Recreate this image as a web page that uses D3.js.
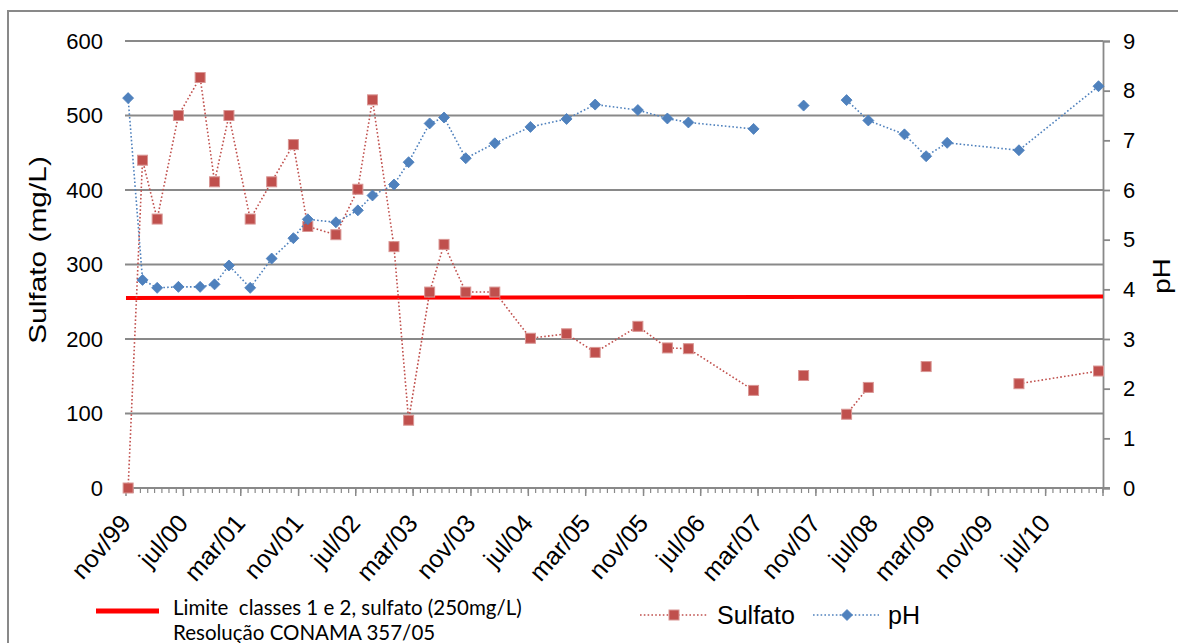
<!DOCTYPE html>
<html>
<head>
<meta charset="utf-8">
<script src="https://cdn.jsdelivr.net/npm/d3@7/dist/d3.min.js"></script>
<style>
  html, body { margin: 0; padding: 0; background: #fff; }
  svg { display: block; }
  text { font-family: "Liberation Sans", Arial, sans-serif; fill: #000; }
</style>
</head>
<body>
<svg id="chart" width="1178" height="643"></svg>
<script>
// ---------- DATA ----------
const dates = ["1999-11-10","2000-01-10","2000-03-12","2000-06-10","2000-09-10","2000-11-10",
  "2001-01-10","2001-04-10","2001-07-10","2001-10-10","2001-12-10","2002-04-08","2002-07-10",
  "2002-09-10","2002-12-10","2003-02-10","2003-05-10","2003-07-10","2003-10-10","2004-02-10",
  "2004-07-10","2004-12-10","2005-04-10","2005-10-08","2006-02-10","2006-05-10","2007-02-10",
  "2007-06-10","2007-09-10","2007-12-10","2008-03-10","2008-06-10","2008-11-10","2009-02-10",
  "2009-05-10","2010-03-10","2011-02-10"];
const sulfato = [0,440,361,500,551,411,500,361,411,461,351,340,401,521,324,91,263,327,263,263,
  201,207,182,217,188,187,131,null,151,null,99,135,null,163,null,140,157];
const ph = [7.85,4.19,4.03,4.05,4.05,4.10,4.48,4.03,4.62,5.03,5.41,5.35,5.59,5.89,6.11,6.56,7.34,
  7.46,6.64,6.94,7.27,7.43,7.72,7.61,7.44,7.36,7.23,null,7.70,null,7.81,7.40,7.12,6.68,6.95,6.80,8.09];
const tickLabels = ["nov/99","jul/00","mar/01","nov/01","jul/02","mar/03","nov/03","jul/04",
  "mar/05","nov/05","jul/06","mar/07","nov/07","jul/08","mar/09","nov/09","jul/10"];
const leftTicks = [0,100,200,300,400,500,600];
const rightTicks = [0,1,2,3,4,5,6,7,8,9];
const limitValues = [255, 257]; // drawn limit line (start, end) in mg/L
const axisStart = "1999-11-01", axisEnd = "2011-03-01";
const seriesNames = ["Sulfato", "pH"];
const limitLegend = ["Limite  classes 1 e 2, sulfato (250mg/L)", "Resolução CONAMA 357/05"];

// ---------- SETUP ----------
const parse = d3.timeParse("%Y-%m-%d");
const rows = dates.map((d,i) => ({date: parse(d), s: sulfato[i], p: ph[i]}));
const svg = d3.select("#chart");
const L = 126, R = 1103, T = 41, B = 488;
const x = d3.scaleTime().domain([parse(axisStart), parse(axisEnd)]).range([L, R]);
const yL = d3.scaleLinear().domain([0,600]).range([B, T]);
const yR = d3.scaleLinear().domain([0,9]).range([B, T]);
const gray = "#898989";
const red = "#C0504D", blue = "#4F81BD";

// outer border
svg.append("rect").attr("x",8).attr("y",11).attr("width",1200).attr("height",700)
  .attr("fill","none").attr("stroke",gray).attr("stroke-width",2);

// gridlines
svg.append("g").selectAll("line").data(leftTicks).join("line")
  .attr("x1", L-1).attr("x2", R).attr("y1", d=>yL(d)).attr("y2", d=>yL(d))
  .attr("stroke", gray).attr("stroke-width", 1.8);

// left labels
svg.append("g").selectAll("text").data(leftTicks).join("text")
  .attr("x", 103).attr("y", d=>yL(d)).attr("dy","0.36em")
  .attr("text-anchor","end").attr("font-size", 22).text(d=>d);

// right axis
const gR = svg.append("g").attr("transform",`translate(${R},0)`)
  .call(d3.axisRight(yR).tickValues(rightTicks).tickSize(7).tickPadding(13).tickFormat(d3.format("d")));
gR.select(".domain").attr("stroke",gray).attr("stroke-width",1.8);
gR.selectAll(".tick line").attr("stroke",gray).attr("stroke-width",1.8);
gR.selectAll(".tick text").attr("font-size",22).attr("font-family","Liberation Sans, Arial, sans-serif").attr("fill","#000");

// bottom axis: minor monthly ticks, major every 8 months
const months = d3.timeMonth.range(parse(axisStart), d3.timeDay.offset(parse(axisEnd),1));
const majorDates = tickLabels.map((t,i) => d3.timeMonth.offset(parse(axisStart), 8*i));
const gX = svg.append("g");
gX.append("line").attr("x1",L).attr("x2",R+7).attr("y1",B).attr("y2",B)
  .attr("stroke",gray).attr("stroke-width",1.8);
gX.selectAll("line.minor").data(months).join("line").attr("class","minor")
  .attr("x1",d=>x(d)).attr("x2",d=>x(d)).attr("y1",B).attr("y2",B+5)
  .attr("stroke",gray).attr("stroke-width",1.2);
gX.selectAll("line.major").data(majorDates.concat([parse(axisEnd)])).join("line").attr("class","major")
  .attr("x1",d=>x(d)).attr("x2",d=>x(d)).attr("y1",B).attr("y2",B+8)
  .attr("stroke",gray).attr("stroke-width",1.5);
gX.selectAll("text").data(majorDates).join("text")
  .attr("transform", d => `translate(${x(d)+6},${B+36}) rotate(-49)`)
  .attr("text-anchor","end").attr("font-size",25)
  .text((d,i)=>tickLabels[i]);

// axis titles
svg.append("text").attr("transform","translate(46,250) scale(1,1.3) rotate(-90)")
  .attr("text-anchor","middle").attr("font-size",23).text("Sulfato (mg/L)");
svg.append("text").attr("transform","translate(1170,276) scale(1,1.2) rotate(-90)")
  .attr("text-anchor","middle").attr("font-size",23).text("pH");

// limit line
svg.append("line")
  .attr("x1", L).attr("x2", R)
  .attr("y1", yL(limitValues[0])).attr("y2", yL(limitValues[1]))
  .attr("stroke","#FF0000").attr("stroke-width",4);

// series
const dash = "1.6 2.2";
const lineS = d3.line().defined(d=>d.s!=null).x(d=>x(d.date)).y(d=>yL(d.s));
const lineP = d3.line().defined(d=>d.p!=null).x(d=>x(d.date)).y(d=>yR(d.p));
svg.append("path").datum(rows).attr("d",lineS).attr("fill","none")
  .attr("stroke",red).attr("stroke-width",1.6).attr("stroke-dasharray",dash);
svg.append("g").selectAll("rect").data(rows.filter(d=>d.s!=null)).join("rect")
  .attr("x",d=>x(d.date)-5).attr("y",d=>yL(d.s)-5).attr("width",10).attr("height",10)
  .attr("fill",red).attr("stroke","#D99694").attr("stroke-width",1);

svg.append("path").datum(rows).attr("d",lineP).attr("fill","none")
  .attr("stroke",blue).attr("stroke-width",1.6).attr("stroke-dasharray",dash);
const diamond = "M0,-5.5L5.5,0L0,5.5L-5.5,0Z";
svg.append("g").selectAll("path").data(rows.filter(d=>d.p!=null)).join("path")
  .attr("transform",d=>`translate(${x(d.date)},${yR(d.p)})`).attr("d",diamond)
  .attr("fill",blue).attr("stroke","#4A7EBB").attr("stroke-width",0.8);

// legend
const lg = svg.append("g");
lg.append("line").attr("x1",96).attr("x2",159).attr("y1",611).attr("y2",611)
  .attr("stroke","#FF0000").attr("stroke-width",5);
lg.selectAll("text.lim").data(limitLegend).join("text").attr("class","lim")
  .attr("x",173).attr("y",(d,i)=>615+i*25)
  .attr("font-size",20.5).style("font-family","Lato, sans-serif").style("white-space","pre")
  .text(d=>d);

const legendItems = [
  {name: seriesNames[0], color: red, x1: 640, x2: 707, mx: 674, tx: 717, shape: "sq"},
  {name: seriesNames[1], color: blue, x1: 813, x2: 879, mx: 847, tx: 888, shape: "dia"}
];
legendItems.forEach(it => {
  lg.append("line").attr("x1",it.x1).attr("x2",it.x2).attr("y1",615).attr("y2",615)
    .attr("stroke",it.color).attr("stroke-width",1.6).attr("stroke-dasharray",dash);
  if (it.shape==="sq") {
    lg.append("rect").attr("x",it.mx-5).attr("y",610).attr("width",10).attr("height",10)
      .attr("fill",red).attr("stroke","#D99694");
  } else {
    lg.append("path").attr("transform",`translate(${it.mx},615)`).attr("d",diamond)
      .attr("fill",blue).attr("stroke","#4A7EBB").attr("stroke-width",0.8);
  }
  lg.append("text").attr("x",it.tx).attr("y",624).attr("font-size",25).text(it.name);
});
</script>
</body>
</html>
